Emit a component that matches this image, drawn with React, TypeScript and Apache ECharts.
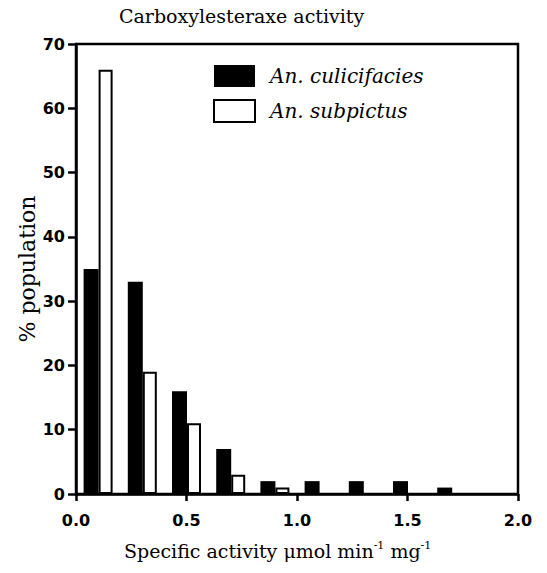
import React, { useEffect, useRef } from "react";
import * as echarts from "echarts";

const categories = ["0.1", "0.3", "0.5", "0.7", "0.9", "1.1", "1.3", "1.5", "1.7", "1.9"];
const culicifacies = [35, 33, 16, 7, 2, 2, 2, 2, 1, 0];
const subpictus = [66, 19, 11, 3, 1, 0, 0, 0, 0, 0];
const seriesNames = ["An. culicifacies", "An. subpictus"];
const titleText = "Carboxylesteraxe activity";
const yName = "% population";

export default function App() {
  const ref = useRef<HTMLDivElement>(null);
  useEffect(() => {
    if (!ref.current) return;
    const chart = echarts.init(ref.current, null, { renderer: "svg" });
    const serif = "DejaVu Serif";
    const sans = "DejaVu Sans";
    chart.setOption({
      animation: false,
      backgroundColor: "#fff",
      grid: {
        left: 76,
        top: 44,
        right: 29,
        bottom: 79,
        show: true,
        borderColor: "#000",
        borderWidth: 2.5,
      },
      legend: {
        orient: "vertical",
        left: 208,
        top: 60,
        itemWidth: 41,
        itemHeight: 22,
        itemGap: 12,
        icon: "rect",
        textStyle: {
          fontFamily: serif,
          fontStyle: "italic",
          fontSize: 20,
          color: "#000",
          padding: [0, 0, 0, 10],
        },
        data: seriesNames,
      },
      graphic: [
        {
          type: "text",
          left: 119,
          top: 6,
          style: { text: titleText, fontFamily: serif, fontSize: 19, fill: "#000" },
        },
        {
          type: "text",
          left: 124,
          top: 540,
          style: {
            text: "Specific activity μmol min{sup|-1} mg{sup|-1}",
            fontFamily: serif,
            fontSize: 19,
            fill: "#000",
            rich: {
              sup: { fontFamily: serif, fontSize: 11, verticalAlign: "top", padding: [0, 0, 10, 0] },
            },
          },
        },
      ],
      xAxis: [
        {
          type: "category",
          data: categories,
          boundaryGap: true,
          axisLine: { show: false },
          axisTick: { show: false },
          axisLabel: { show: false },
          splitLine: { show: false },
        },
        {
          type: "value",
          min: 0,
          max: 2,
          interval: 0.5,
          position: "bottom",
          axisLine: { show: true, lineStyle: { color: "#000", width: 2.5 } },
          axisTick: { show: true, length: 7, lineStyle: { color: "#000", width: 2.5 } },
          axisLabel: {
            margin: 18,
            fontFamily: sans,
            fontWeight: "bold",
            fontSize: 16,
            color: "#000",
            formatter: (v: number) => v.toFixed(1),
          },
          splitLine: { show: false },
        },
      ],
      yAxis: {
        type: "value",
        min: 0,
        max: 70,
        interval: 10,
        name: yName,
        nameLocation: "middle",
        nameGap: 38,
        nameMoveOverlap: false,
        nameTextStyle: { fontFamily: serif, fontSize: 22, color: "#000" },
        axisLine: { show: true, lineStyle: { color: "#000", width: 2.5 } },
        axisTick: { show: true, length: 8, lineStyle: { color: "#000", width: 2.5 } },
        axisLabel: {
          margin: 11,
          fontFamily: sans,
          fontWeight: "bold",
          fontSize: 16,
          color: "#000",
        },
        splitLine: { show: false },
      },
      series: [
        {
          name: seriesNames[0],
          type: "bar",
          xAxisIndex: 0,
          data: culicifacies,
          barWidth: 15,
          barGap: "0%",
          itemStyle: { color: "#000" },
        },
        {
          name: seriesNames[1],
          type: "bar",
          xAxisIndex: 0,
          data: subpictus,
          barWidth: 14,
          barGap: "0%",
          itemStyle: { color: "#fff", borderColor: "#000", borderWidth: 2 },
        },
      ],
    });
    return () => chart.dispose();
  }, []);
  return <div ref={ref} style={{ width: 547, height: 573, margin: -8 }} />;
}
